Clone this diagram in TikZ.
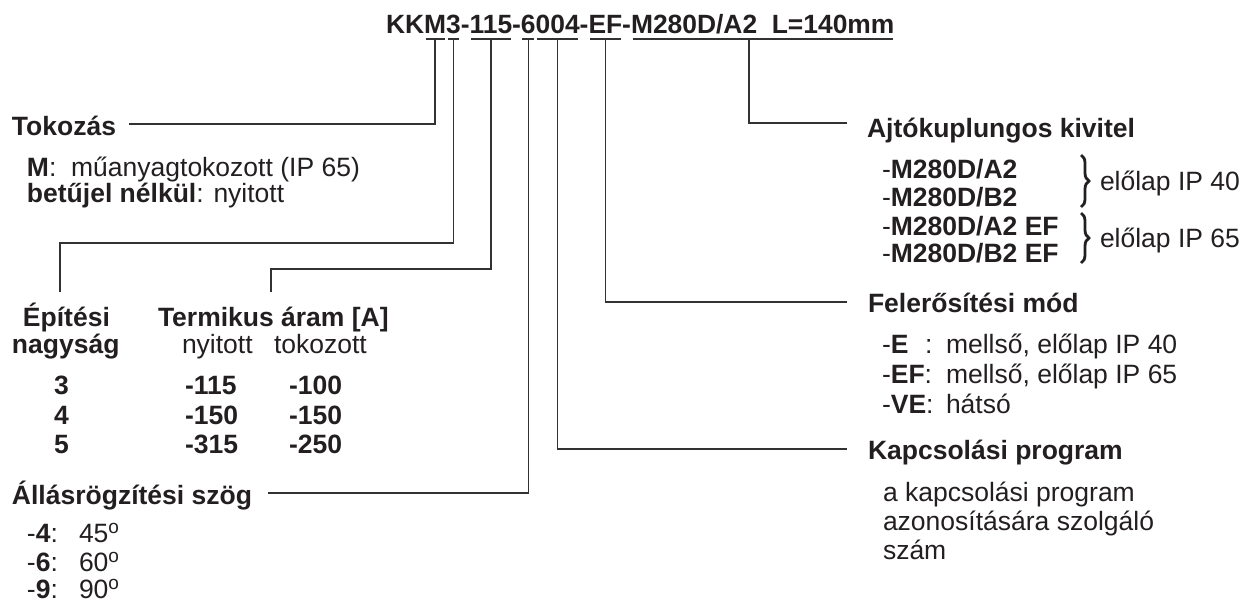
\documentclass[tikz,border=0pt]{standalone}
\usepackage{fontspec}
\setmainfont{Liberation Sans}
\usetikzlibrary{decorations.pathreplacing}
\definecolor{txt}{RGB}{35,31,32}
\definecolor{lnc}{RGB}{50,50,50}
\newcommand\dg{\raisebox{9pt}{\fontsize{19}{19}\selectfont o}}
\begin{document}
\begin{tikzpicture}[x=1pt,y=-1pt,
  every node/.style={inner sep=0pt,outer sep=0pt,text=txt,anchor=base west},
  tt/.style={font=\fontsize{26.4}{26.4}\selectfont\bfseries},
  hd/.style={font=\fontsize{26.5}{26.5}\selectfont\bfseries},
  bd/.style={font=\fontsize{26.5}{26.5}\selectfont},
  ln/.style={draw=lnc,line width=1.4pt},
  brc/.style={draw=txt,line width=2.8pt,decorate,decoration={brace,amplitude=8pt}}]
\useasboundingbox (0,0) rectangle (1250,603);
% title
\node[tt] (k1) at (386,33) {KK};
\node[tt] (k2) at (k1.base east) {M};
\node[tt] (k3) at (k2.base east) {3};
\node[tt] (d1) at (k3.base east) {-};
\node[tt] (k4) at (d1.base east) {115};
\node[tt] (d2) at (k4.base east) {-};
\node[tt] (k5) at (d2.base east) {6};
\node[tt] (k6) at (k5.base east) {004};
\node[tt] (d3) at (k6.base east) {-};
\node[tt] (k7) at (d3.base east) {EF};
\node[tt] (d4) at (k7.base east) {-};
\node[tt] (k8) at (d4.base east) {M280D/A2\ \ L=140mm};
\foreach \n in {k2,k3,k4,k5,k6,k7,k8}{
  \draw[ln] ([shift={(1.5pt,-6pt)}]\n.base west) -- ([shift={(-1.5pt,-6pt)}]\n.base east);
  \coordinate (m\n) at ([yshift=-6pt]\n.base);
}
\coordinate (m8) at (749,39);
% corners
\coordinate (cTok) at (129,124);
\coordinate (c3) at (60,243);
\coordinate (c3e) at (60,292);
\coordinate (c4) at (271,269);
\coordinate (c4e) at (271,292);
\coordinate (c5) at (268,493);
\coordinate (c6) at (847,449);
\coordinate (c7) at (847,302);
\coordinate (c8) at (847,123);
\draw[ln] (mk2) |- (cTok);
\draw[ln] (mk3) |- (c3) -- (c3e);
\draw[ln] (mk4) |- (c4) -- (c4e);
\draw[ln] (mk5) |- (c5);
\draw[ln] (mk6) |- (c6);
\draw[ln] (mk7) |- (c7);
\draw[ln] (m8) |- (c8);
% left column
\node[hd] (tok) at (12,135) {Tokozás};
\node[bd] (tok1) at (27,176) {\textbf{M}:\ \ műanyagtokozott (IP 65)};
\node[bd] (tok2) at (27,202) {\textbf{betűjel nélkül}: nyitott};
\node[hd] (ep1) at (23,326) {Építési};
\node[hd] (ep2) at (12,353) {nagyság};
\node[hd] (term) at (158,326) {Termikus áram [A]};
\node[bd] (ny) at (182,353) {nyitott};
\node[bd] (tk) at (274,353) {tokozott};
\node[hd] (r1a) at (54,394) {3};
\node[hd] (r1b) at (185,394) {-115};
\node[hd] (r1c) at (289,394) {-100};
\node[hd] (r2a) at (54,424) {4};
\node[hd] (r2b) at (185,424) {-150};
\node[hd] (r2c) at (289,424) {-150};
\node[hd] (r3a) at (54,453) {5};
\node[hd] (r3b) at (185,453) {-315};
\node[hd] (r3c) at (289,453) {-250};
\node[hd] (all) at (12,504) {Állásrögzítési szög};
\node[bd] (a1) at (27,542) {-\textbf{4}:};
\node[bd] (a1v) at (79,542) {45\dg};
\node[bd] (a2) at (27,571) {-\textbf{6}:};
\node[bd] (a2v) at (79,571) {60\dg};
\node[bd] (a3) at (27,598) {-\textbf{9}:};
\node[bd] (a3v) at (79,598) {90\dg};
% right column
\node[hd] (ajt) at (867,137) {Ajtókuplungos kivitel};
\node[bd] (v1) at (882,178) {-\textbf{M280D/A2}};
\node[bd] (v2) at (882,206) {-\textbf{M280D/B2}};
\node[bd] (v3) at (882,235) {-\textbf{M280D/A2 EF}};
\node[bd] (v4) at (882,262) {-\textbf{M280D/B2 EF}};
\coordinate (b1t) at (1081,155);
\coordinate (b1b) at (1081,207);
\coordinate (b2t) at (1081,213);
\coordinate (b2b) at (1081,263);
\draw[brc] (b1t) -- (b1b);
\draw[brc] (b2t) -- (b2b);
\node[bd] (ip40) at (1100,190) {előlap IP 40};
\node[bd] (ip65) at (1100,247) {előlap IP 65};
\node[hd] (fel) at (868,312) {Felerősítési mód};
\node[bd] (e1) at (882,353) {-\textbf{E}};
\node[bd] (e1c) at (925,353) {:};
\node[bd] (e1t) at (946,353) {mellső, előlap IP 40};
\node[bd] (e2) at (882,383) {-\textbf{EF}:};
\node[bd] (e2t) at (946,383) {mellső, előlap IP 65};
\node[bd] (e3) at (882,413) {-\textbf{VE}:};
\node[bd] (e3t) at (946,413) {hátsó};
\node[hd] (kap) at (868,459) {Kapcsolási program};
\node[bd] (kp1) at (883,501) {a kapcsolási program};
\node[bd] (kp2) at (883,530) {azonosítására szolgáló};
\node[bd] (kp3) at (883,559) {szám};
\end{tikzpicture}
\end{document}
